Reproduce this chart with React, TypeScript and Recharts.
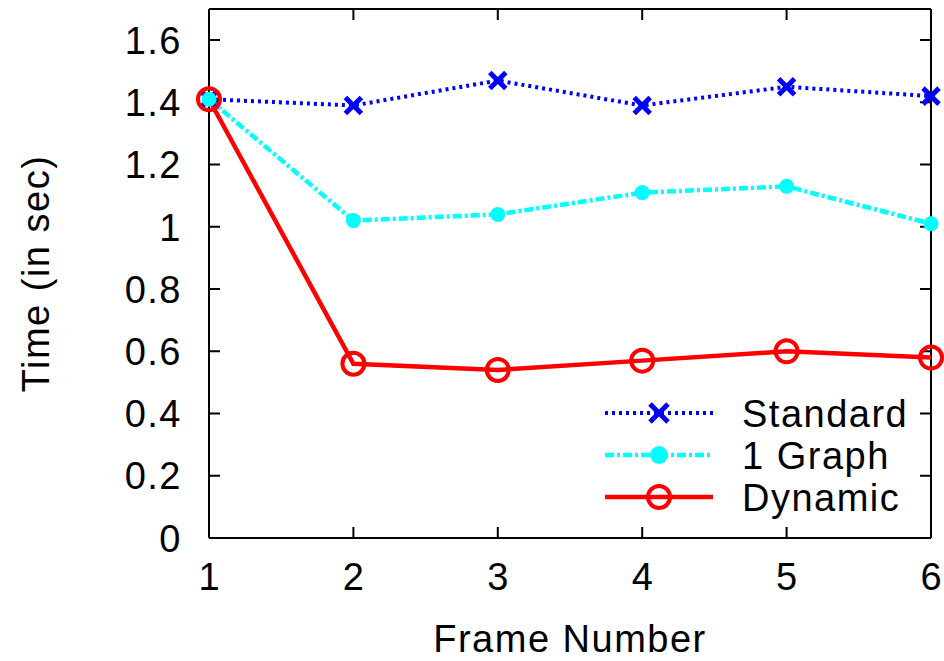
import { LineChart, Line, XAxis, YAxis, Legend, ReferenceLine } from "recharts"

// frame numbers on the x axis
const frames = [1, 2, 3, 4, 5, 6]
// times in seconds
const standardTimes = [1.41, 1.39, 1.47, 1.39, 1.45, 1.42]
const oneGraphTimes = [1.41, 1.02, 1.04, 1.11, 1.13, 1.01]
const dynamicTimes = [1.41, 0.56, 0.54, 0.57, 0.6, 0.58]
const yTicks = [0, 0.2, 0.4, 0.6, 0.8, 1, 1.2, 1.4, 1.6]
const Y_MAX = 1.7

const data = frames.map((f, i) => ({
  frame: f,
  standard: standardTimes[i],
  oneGraph: oneGraphTimes[i],
  dynamic: dynamicTimes[i],
}))

const FONT = "'Liberation Sans', Arial, Helvetica, sans-serif"
const FS = 38
const LS = 1.5
const BLUE = "#0000ff"
const CYAN = "#00ffff"
const RED = "#ff0000"
const TICK_LEN = 11

const leftTick = (props: any) => {
  const v = props.payload.value
  return (
    <text x={props.x} y={props.y} dy="0.36em" textAnchor="end" fontSize={FS} letterSpacing={LS} fontFamily={FONT} fill="#000">
      {String(v)}
    </text>
  )
}

const bottomTick = (props: any) => {
  const v = props.payload.value
  return (
    <text x={props.x} y={props.y} dy="0.72em" textAnchor="middle" fontSize={FS} fontFamily={FONT} fill="#000">
      {String(v)}
    </text>
  )
}

// gnuplot style inward ticks on both ends of a horizontal reference line
const hTicks = (p: any) => {
  const xa = Math.min(p.x1, p.x2)
  const xb = Math.max(p.x1, p.x2)
  return <path d={`M${xa},${p.y1}h${TICK_LEN}M${xb},${p.y1}h${-TICK_LEN}`} stroke="#000" strokeWidth={2} fill="none" />
}

const vTicks = (p: any) => {
  const ya = Math.min(p.y1, p.y2)
  const yb = Math.max(p.y1, p.y2)
  return <path d={`M${p.x1},${yb}v${-TICK_LEN}M${p.x1},${ya}v${TICK_LEN}`} stroke="#000" strokeWidth={2} fill="none" />
}

// blue x marker
const CrossDot = (props: any) => {
  const { cx, cy } = props
  if (cx == null || cy == null) return null
  const s = props.size ?? 8
  return (
    <g>
      <line x1={cx - s} y1={cy - s} x2={cx + s} y2={cy + s} stroke={BLUE} strokeWidth={5} />
      <line x1={cx - s} y1={cy + s} x2={cx + s} y2={cy - s} stroke={BLUE} strokeWidth={5} />
    </g>
  )
}

const FilledDot = (props: any) => {
  const { cx, cy } = props
  if (cx == null || cy == null) return null
  return <circle cx={cx} cy={cy} r={props.size ?? 7.5} fill={CYAN} />
}

const RingDot = (props: any) => {
  const { cx, cy } = props
  if (cx == null || cy == null) return null
  return <circle cx={cx} cy={cy} r={11} fill="none" stroke={RED} strokeWidth={4} />
}

const legendRows = [
  { name: "Standard", color: BLUE, dash: "3 4", width: 4, marker: "cross" },
  { name: "1 Graph", color: CYAN, dash: "9 3 3 3", width: 4.5, marker: "dot" },
  { name: "Dynamic", color: RED, dash: undefined, width: 4.5, marker: "ring" },
]

function LegendBox() {
  return (
    <svg width={340} height={130}>
      {legendRows.map((r, i) => {
        const y = 21 + i * 42
        return (
          <g key={r.name}>
            <line x1={5} x2={113} y1={y} y2={y} stroke={r.color} strokeWidth={r.width} strokeDasharray={r.dash} />
            {r.marker === "cross" && CrossDot({ cx: 59, cy: y, size: 9 })}
            {r.marker === "dot" && FilledDot({ cx: 59, cy: y, size: 9 })}
            {r.marker === "ring" && RingDot({ cx: 59, cy: y })}
            <text x={142} y={y} dy="0.36em" fontSize={FS} letterSpacing={LS} fontFamily={FONT} fill="#000">
              {r.name}
            </text>
          </g>
        )
      })}
    </svg>
  )
}

export default function App() {
  return (
    <div style={{ position: "absolute", left: 0, top: 0, width: 944, height: 661, background: "#fff" }}>
      <LineChart width={944} height={661} data={data} margin={{ top: 9, right: 13, bottom: 0, left: 0 }}>
        <XAxis
          dataKey="frame"
          type="number"
          domain={[1, 6]}
          ticks={frames}
          height={123}
          tickSize={0}
          tickMargin={25}
          tick={bottomTick}
          axisLine={{ stroke: "#000", strokeWidth: 2 }}
          tickLine={false}
          label={{
            content: ({ viewBox }: any) => (
              <text
                x={viewBox.x + viewBox.width / 2}
                y={viewBox.y + 100}
                dy="0.36em"
                textAnchor="middle"
                fontSize={FS}
                letterSpacing={LS}
                fontFamily={FONT}
                fill="#000"
              >
                Frame Number
              </text>
            ),
          }}
        />
        <YAxis
          type="number"
          domain={[0, Y_MAX]}
          ticks={yTicks}
          width={209}
          tickSize={0}
          tickMargin={27}
          tick={leftTick}
          axisLine={{ stroke: "#000", strokeWidth: 2 }}
          tickLine={false}
          label={{
            content: ({ viewBox }: any) => {
              const cx = viewBox.x + 35
              const cy = viewBox.y + viewBox.height / 2
              return (
                <text
                  x={cx}
                  y={cy}
                  dy="0.36em"
                  textAnchor="middle"
                  transform={`rotate(-90 ${cx} ${cy})`}
                  fontSize={FS}
                  letterSpacing={LS}
                  fontFamily={FONT}
                  fill="#000"
                >
                  Time (in sec)
                </text>
              )
            },
          }}
        />
        {/* frame top and right */}
        <ReferenceLine y={Y_MAX} stroke="#000" strokeWidth={2} />
        <ReferenceLine x={6} stroke="#000" strokeWidth={2} />
        {yTicks.map((v) => (
          <ReferenceLine key={`yt-${v}`} y={v} shape={hTicks} />
        ))}
        {frames.map((f) => (
          <ReferenceLine key={`xt-${f}`} x={f} shape={vTicks} />
        ))}
        <Legend
          layout="horizontal"
          verticalAlign="middle"
          align="center"
          wrapperStyle={{ left: 600, top: 392, width: 340, height: 130 }}
          content={() => <LegendBox />}
        />
        <Line
          dataKey="standard"
          name="Standard"
          stroke={BLUE}
          strokeWidth={4}
          strokeDasharray="3 4"
          dot={<CrossDot />}
          isAnimationActive={false}
        />
        <Line
          dataKey="oneGraph"
          name="1 Graph"
          stroke={CYAN}
          strokeWidth={4.5}
          strokeDasharray="9 3 3 3"
          dot={<FilledDot />}
          isAnimationActive={false}
        />
        <Line
          dataKey="dynamic"
          name="Dynamic"
          stroke={RED}
          strokeWidth={4.5}
          dot={<RingDot />}
          isAnimationActive={false}
        />
      </LineChart>
    </div>
  )
}
